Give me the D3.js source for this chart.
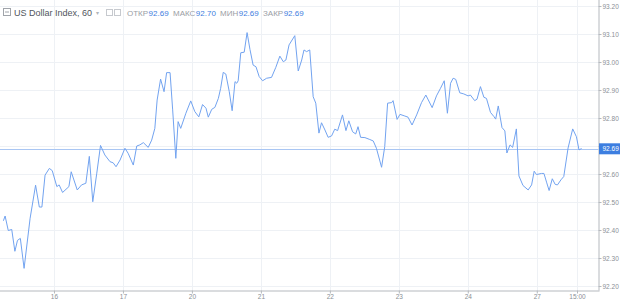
<!DOCTYPE html>
<html>
<head>
<meta charset="utf-8">
<script src="https://cdn.jsdelivr.net/npm/d3@7"></script>
<style>
  html, body { margin: 0; padding: 0; background: #ffffff; }
  svg { display: block; font-family: "Liberation Sans", Arial, sans-serif; }
</style>
</head>
<body>
<svg id="chart" width="620" height="300"></svg>
<script>
// ---- data ----
const tickHours = [24, 48, 72, 96, 120, 144, 168, 192, 206];
const tickLabels = ["16", "17", "20", "21", "22", "23", "24", "27", "15:00"];
const yTicks = [92.2, 92.3, 92.4, 92.5, 92.6, 92.7, 92.8, 92.9, 93.0, 93.1, 93.2];
const lastValue = 92.69;
const ohlcNames = ["ОТКР", "МАКС", "МИН", "ЗАКР"];
const ohlcValues = ["92.69", "92.70", "92.69", "92.69"];
const title = "US Dollar Index, 60";

const hours = [
  6.4, 7.0, 8.1, 9.3, 10.4, 11.3, 12.3, 13.6, 15.7, 17.6,
  18.9, 19.8, 20.9, 22.4, 23.4, 25.0, 25.8, 27.0, 29.2, 30.0,
  32.1, 33.6, 35.1, 36.3, 37.5, 38.9, 40.2, 41.7, 43.5, 44.6,
  45.6, 47.0, 48.7, 49.8, 51.6, 52.8, 53.9, 55.1, 56.8, 58.0,
  59.1, 59.9, 61.1, 62.3, 63.2, 64.4, 65.3, 66.4, 67.2, 68.1,
  69.9, 71.6, 73.0, 74.4, 75.7, 76.9, 77.7, 78.9, 80.0, 81.2,
  82.0, 82.9, 83.8, 85.0, 86.0, 87.0, 87.6, 88.1, 89.0, 90.2,
  91.2, 92.2, 93.3, 94.3, 95.4, 96.6, 98.0, 99.7, 101.2, 102.6,
  103.8, 104.7, 105.8, 107.8, 109.0, 110.2, 111.0, 111.9, 113.0, 114.2,
  115.1, 116.2, 117.1, 118.3, 119.4, 120.6, 121.7, 122.7, 124.4, 125.6,
  126.6, 127.9, 129.0, 129.8, 130.7, 132.2, 133.7, 135.1, 136.2, 138.0,
  139.1, 140.1, 141.5, 142.0, 143.4, 144.4, 146.1, 147.2, 148.6, 150.2,
  151.9, 153.4, 155.6, 157.1, 158.5, 159.8, 160.9, 162.0, 162.9, 163.8,
  165.2, 166.6, 168.1, 168.9, 170.4, 171.2, 172.4, 173.6, 174.5, 175.9,
  177.1, 177.7, 178.6, 179.9, 180.9, 181.6, 182.7, 183.6, 184.9, 185.8,
  187.2, 189.0, 190.2, 191.1, 191.9, 193.6, 194.5, 195.4, 196.3, 197.4,
  198.4, 199.2, 200.4, 201.4, 202.9, 204.5, 205.8, 206.7, 207.6
];
const values = [
  92.433, 92.450, 92.398, 92.402, 92.324, 92.363, 92.370, 92.263, 92.442, 92.560,
  92.482, 92.482, 92.596, 92.620, 92.612, 92.555, 92.561, 92.534, 92.555, 92.608,
  92.543, 92.561, 92.567, 92.663, 92.501, 92.603, 92.702, 92.668, 92.644, 92.640,
  92.626, 92.650, 92.692, 92.674, 92.632, 92.700, 92.704, 92.712, 92.695, 92.721,
  92.763, 92.864, 92.939, 92.894, 92.962, 92.962, 92.829, 92.656, 92.787, 92.763,
  92.817, 92.861, 92.823, 92.804, 92.848, 92.835, 92.803, 92.831, 92.838, 92.870,
  92.906, 92.963, 92.957, 92.894, 92.826, 92.930, 92.924, 92.933, 93.033, 93.035,
  93.105, 93.045, 92.989, 92.983, 92.948, 92.933, 92.942, 92.945, 92.981, 93.021,
  93.001, 93.007, 93.061, 93.094, 92.968, 93.007, 93.043, 93.037, 93.043, 92.876,
  92.853, 92.746, 92.783, 92.757, 92.731, 92.736, 92.760, 92.755, 92.811, 92.755,
  92.790, 92.751, 92.743, 92.769, 92.731, 92.730, 92.724, 92.718, 92.692, 92.624,
  92.698, 92.853, 92.855, 92.862, 92.795, 92.813, 92.807, 92.803, 92.775, 92.811,
  92.855, 92.882, 92.837, 92.879, 92.906, 92.933, 92.817, 92.924, 92.942, 92.938,
  92.890, 92.886, 92.879, 92.882, 92.862, 92.867, 92.912, 92.874, 92.870, 92.820,
  92.805, 92.796, 92.843, 92.766, 92.754, 92.675, 92.704, 92.695, 92.761, 92.593,
  92.559, 92.543, 92.561, 92.610, 92.598, 92.602, 92.602, 92.571, 92.541, 92.583,
  92.563, 92.561, 92.579, 92.591, 92.693, 92.761, 92.733, 92.686, 92.691
];

// ---- layout ----
const W = 620, H = 300;
const plotRight = 598.5, plotBottom = 290.5;
const svg = d3.select("#chart");

const x = d3.scaleLinear().domain([0, 206]).range([-15, 577]);
const y = d3.scaleLinear().domain([92.2, 93.2]).range([286, 6]);

const gridColor = "#eef1f5";
const axisColor = "#b5b9be";
const labelColor = "#8a8f96";

// clip
svg.append("defs").append("clipPath").attr("id", "plotclip")
  .append("rect").attr("x", 0).attr("y", 0).attr("width", plotRight).attr("height", plotBottom);

// grid
const grid = svg.append("g").attr("clip-path", "url(#plotclip)");
grid.selectAll("line.h").data(yTicks).join("line")
  .attr("x1", 0).attr("x2", plotRight)
  .attr("y1", d => Math.round(y(d)) + 0.5).attr("y2", d => Math.round(y(d)) + 0.5)
  .attr("stroke", gridColor).attr("stroke-width", 1);
grid.selectAll("line.v").data(tickHours).join("line")
  .attr("y1", 0).attr("y2", plotBottom)
  .attr("x1", d => Math.round(x(d)) + 0.5).attr("x2", d => Math.round(x(d)) + 0.5)
  .attr("stroke", gridColor).attr("stroke-width", 1);

// current price line
svg.append("line")
  .attr("x1", 0).attr("x2", plotRight)
  .attr("y1", Math.round(y(lastValue)) + 0.5).attr("y2", Math.round(y(lastValue)) + 0.5)
  .attr("stroke", "#a9c6f3").attr("stroke-width", 1);

// series line
const data = hours.map((h, i) => ({ h, v: values[i] }));
svg.append("path")
  .datum(data)
  .attr("clip-path", "url(#plotclip)")
  .attr("fill", "none")
  .attr("stroke", "#72a3f0")
  .attr("stroke-width", 1)
  .attr("stroke-linejoin", "round")
  .attr("d", d3.line().x(d => x(d.h)).y(d => y(d.v)));

// right axis
const yAxis = d3.axisRight(y).tickValues(yTicks).tickSize(3).tickFormat(d3.format(".2f"));
const gy = svg.append("g").attr("transform", `translate(${plotRight},0)`).call(yAxis);
gy.select(".domain").attr("stroke", axisColor).attr("d", `M0.5,0V${plotBottom}`);
gy.selectAll(".tick line").attr("stroke", axisColor);
gy.selectAll(".tick text").attr("fill", labelColor).attr("font-size", 6.5)
  .attr("font-family", "Liberation Sans, Arial, sans-serif").attr("x", 4);
// the tick label hidden under the last-price badge
gy.selectAll(".tick").filter(d => Math.abs(y(d) - y(lastValue)) < 8).select("text").remove();

// bottom axis
const xAxis = d3.axisBottom(x).tickValues(tickHours).tickSize(3)
  .tickFormat((d, i) => tickLabels[i]);
const gx = svg.append("g").attr("transform", `translate(0,${plotBottom})`).call(xAxis);
gx.select(".domain").attr("stroke", axisColor).attr("d", `M0,0.5H${plotRight + 1}`);
gx.selectAll(".tick line").attr("stroke", axisColor);
gx.selectAll(".tick text").attr("fill", labelColor).attr("font-size", 6.5)
  .attr("font-family", "Liberation Sans, Arial, sans-serif").attr("y", 4);

// last price label
const ly = y(lastValue);
svg.append("rect").attr("x", plotRight + 0.5).attr("y", ly - 5.5).attr("width", W - plotRight).attr("height", 11)
  .attr("fill", "#3d7ee0");
svg.append("text").attr("x", plotRight + 4).attr("y", ly + 2.3)
  .attr("fill", "#ffffff").attr("font-size", 6.5).text(d3.format(".2f")(lastValue));

// header
const hdr = svg.append("g");
hdr.append("rect").attr("x", 3.5).attr("y", 8.5).attr("width", 7).attr("height", 7)
  .attr("fill", "none").attr("stroke", "#a0a4aa");
hdr.append("line").attr("x1", 5).attr("x2", 9).attr("y1", 12).attr("y2", 12).attr("stroke", "#a0a4aa");
hdr.append("text").attr("x", 14).attr("y", 15.5).attr("font-size", 9).attr("fill", "#50555c").text(title);
hdr.append("text").attr("x", 96).attr("y", 14.5).attr("font-size", 6).attr("fill", "#b0b4ba").text("▾");
hdr.append("rect").attr("x", 106.5).attr("y", 9.5).attr("width", 6).attr("height", 6)
  .attr("fill", "none").attr("stroke", "#c6c9ce");
hdr.append("rect").attr("x", 114.5).attr("y", 9.5).attr("width", 6).attr("height", 6)
  .attr("fill", "none").attr("stroke", "#c6c9ce");
const ohlcX = [127, 173, 220, 263];
ohlcNames.forEach((n, i) => {
  const t = hdr.append("text").attr("x", ohlcX[i]).attr("y", 15.5).attr("font-size", 8);
  t.append("tspan").attr("fill", "#9a9ea5").text(n);
  t.append("tspan").attr("fill", "#3d7ee0").attr("dx", 0.5).text(ohlcValues[i]);
});
</script>
</body>
</html>
